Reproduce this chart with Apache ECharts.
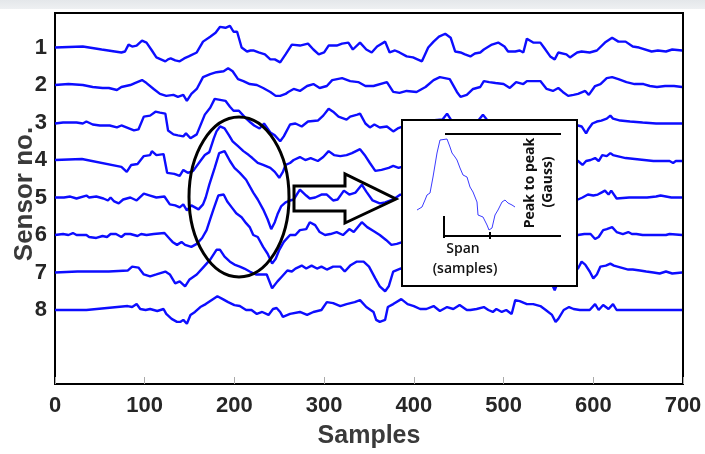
<!DOCTYPE html>
<html><head><meta charset="utf-8">
<script src="https://cdn.jsdelivr.net/npm/echarts@6/dist/echarts.min.js"></script>
<style>html,body{margin:0;padding:0;background:#fff}#c{width:705px;height:454px}</style>
</head><body><div id="c"></div>
<script>
// ---- data (sample, deviation from sensor baseline; up = positive) ----
const xTicks = [0,100,200,300,400,500,600,700];
const sensorLabels = ['1','2','3','4','5','6','7','8'];
const SENSOR_GAP = 38;

const sensor1 = [[0,0],[31,1],[52,-2],[74,-5],[78,-4],[82,3],[86,1],[91,2],[97,7],[102,5],[108,-3],[113,-10],[118,-12],[123,-14],[126,-12],[129,-11],[134,-13],[139,-14],[144,-11],[149,-9],[158,-5],[165,6],[173,11],[179,15],[184,21],[190,20],[195,22],[199,16],[203,16],[208,0],[214,-4],[218,-3],[221,-3],[227,-5],[234,-7],[240,-12],[245,-12],[251,-15],[257,-7],[264,3],[273,2],[282,4],[288,-2],[294,-7],[300,-5],[305,2],[314,2],[320,4],[327,5],[332,-2],[340,5],[347,-2],[353,-5],[359,1],[368,6],[373,-5],[379,-3],[384,-5],[392,-9],[399,-10],[409,-14],[416,0],[422,6],[428,11],[435,14],[441,10],[446,-4],[452,-5],[457,-7],[463,-9],[468,-6],[474,-5],[478,-2],[487,3],[494,5],[501,1],[505,-4],[513,-4],[518,-3],[522,-5],[526,9],[533,5],[541,5],[545,0],[552,-9],[557,-12],[561,-5],[570,-7],[574,-10],[582,-5],[587,-4],[596,-5],[604,-3],[613,5],[621,10],[628,6],[636,6],[644,1],[651,0],[665,-4],[672,-3],[681,-4],[688,-2],[699,-3]];
const sensor2 = [[0,0],[15,1],[31,0],[42,-2],[53,-3],[60,-3],[69,-5],[74,-2],[84,0],[89,2],[97,5],[102,2],[110,-4],[117,-9],[124,-11],[132,-10],[137,-12],[143,-10],[147,-16],[152,-9],[158,-4],[165,8],[173,11],[180,13],[188,14],[193,17],[198,14],[204,6],[210,4],[217,1],[225,0],[232,-3],[240,-7],[246,-11],[251,-11],[257,-9],[260,-7],[266,-4],[273,-6],[281,-1],[288,1],[295,-3],[303,-1],[309,5],[320,7],[329,4],[338,3],[346,-1],[355,-1],[370,3],[377,-7],[384,-8],[392,-6],[403,-7],[413,-2],[422,5],[429,8],[440,6],[448,-7],[452,-12],[459,-10],[466,-4],[474,-2],[478,4],[484,3],[491,2],[500,1],[507,-3],[514,3],[522,1],[526,4],[533,4],[541,4],[548,-4],[555,-6],[561,-3],[566,-7],[572,-11],[578,-10],[583,-9],[591,-6],[595,-10],[602,-1],[608,1],[615,7],[621,8],[628,6],[637,3],[646,1],[656,1],[663,-1],[671,-2],[680,-1],[690,-1],[699,-2]];
const sensor3 = [[0,-1],[9,0],[24,0],[31,-1],[35,1],[42,-2],[50,-3],[61,-3],[69,-5],[74,-3],[88,-8],[93,-7],[99,6],[106,7],[112,11],[117,10],[123,9],[126,-8],[132,-12],[137,-13],[143,-14],[146,-11],[151,-16],[158,-12],[167,8],[173,15],[178,24],[184,23],[190,22],[195,16],[199,12],[205,12],[212,5],[218,0],[222,-3],[228,-6],[233,-1],[240,-10],[245,-13],[251,-19],[255,-14],[262,-2],[268,-1],[275,-4],[282,1],[293,2],[299,7],[305,14],[310,11],[316,6],[325,3],[329,6],[337,8],[340,9],[346,-1],[351,-5],[356,-2],[362,-5],[370,-4],[377,-9],[382,-6],[388,-4],[395,-3],[420,2],[432,3],[437,9],[442,2],[470,0],[477,8],[483,1],[500,-2],[530,-4],[560,-1],[578,-1],[583,-3],[587,-4],[592,-11],[595,-6],[599,-1],[604,1],[609,2],[615,4],[619,7],[622,4],[630,2],[641,1],[655,0],[670,-1],[699,-1]];
const sensor4 = [[0,0],[30,1],[74,-7],[80,-12],[85,-5],[92,-4],[99,4],[106,5],[108,9],[113,5],[121,6],[125,-13],[133,-14],[139,-16],[143,-10],[148,-13],[154,-11],[162,-1],[167,5],[172,8],[177,22],[180,29],[184,34],[189,32],[194,25],[198,19],[204,14],[210,9],[216,5],[220,2],[226,-3],[232,-5],[240,-8],[245,-12],[250,-18],[254,-12],[257,-5],[262,-3],[266,0],[273,3],[279,0],[285,2],[293,-1],[299,3],[305,9],[311,5],[318,4],[325,5],[331,7],[340,11],[346,4],[351,-3],[357,-11],[364,-10],[372,-8],[377,-6],[383,-8],[390,-6],[395,-5],[430,0],[470,2],[520,-2],[560,1],[583,-1],[588,-5],[592,-1],[597,0],[602,2],[606,-1],[610,5],[615,4],[619,7],[622,5],[636,2],[667,-1],[685,-1],[689,-3],[692,-1],[699,-1]];
const sensor5 = [[0,0],[10,0],[17,1],[24,-1],[35,2],[38,0],[46,1],[54,-1],[59,-3],[62,0],[66,-4],[71,-6],[76,-2],[84,0],[91,-3],[99,4],[106,2],[113,0],[122,1],[128,-7],[134,-8],[139,-10],[143,-7],[147,-13],[152,-8],[160,-12],[165,-7],[168,0],[172,13],[178,30],[183,45],[189,47],[195,37],[200,30],[206,25],[213,18],[221,5],[226,-2],[232,-12],[237,-22],[241,-32],[245,-25],[248,-17],[252,-9],[257,-5],[262,-3],[266,-2],[273,8],[280,2],[284,-1],[290,0],[297,3],[303,3],[310,-3],[315,-2],[322,7],[328,3],[335,5],[342,13],[347,6],[354,-3],[362,-6],[368,-5],[377,-2],[385,3],[392,1],[420,2],[460,-1],[500,2],[540,0],[575,1],[583,-2],[588,0],[594,3],[600,2],[605,3],[609,5],[613,7],[617,3],[620,7],[626,-1],[640,0],[660,0],[670,1],[675,2],[687,0],[699,0]];
const sensor6 = [[0,0],[9,1],[15,0],[20,2],[24,0],[35,0],[38,-2],[46,-3],[53,-1],[58,-2],[62,1],[68,1],[74,-2],[78,1],[84,1],[92,-1],[96,1],[102,0],[110,1],[122,2],[128,-4],[131,-7],[136,-10],[141,-7],[145,-10],[152,-12],[158,-9],[164,-3],[169,5],[173,16],[177,27],[182,40],[188,41],[192,34],[197,28],[202,22],[208,18],[213,12],[217,8],[221,0],[226,-2],[232,-12],[237,-19],[242,-29],[246,-24],[250,-15],[255,-7],[262,0],[268,0],[273,5],[280,6],[284,13],[290,10],[295,3],[301,0],[307,1],[314,3],[321,0],[328,6],[333,3],[342,13],[348,8],[355,4],[362,0],[369,-5],[375,-10],[381,-9],[388,-7],[420,-3],[470,2],[520,-1],[560,1],[583,0],[590,1],[597,1],[602,-4],[606,-2],[611,5],[615,6],[621,8],[626,3],[633,1],[639,3],[643,1],[648,1],[655,0],[675,0],[677,2],[681,0],[685,1],[699,0]];
const sensor7 = [[0,0],[25,1],[60,1],[81,2],[86,6],[93,5],[99,-2],[106,-4],[113,-2],[123,1],[128,-2],[134,-11],[139,-9],[145,-14],[150,-7],[158,-2],[165,5],[173,13],[180,23],[184,23],[189,16],[195,11],[200,8],[206,6],[211,4],[217,1],[224,-2],[232,-2],[236,-2],[242,-16],[248,-9],[253,-4],[259,2],[264,1],[268,4],[275,7],[280,4],[286,7],[292,4],[297,6],[303,3],[310,6],[318,6],[323,1],[329,7],[336,11],[344,11],[350,6],[357,-6],[362,-14],[368,-19],[372,-14],[377,1],[385,4],[400,2],[450,0],[500,3],[540,-2],[552,-8],[557,-18],[562,-6],[575,0],[583,4],[587,11],[591,8],[596,1],[600,-6],[604,-2],[608,6],[614,7],[619,9],[623,7],[627,6],[635,4],[639,3],[644,3],[652,2],[659,1],[667,0],[674,-1],[681,1],[688,-1],[699,0]];
const sensor8 = [[0,0],[35,0],[81,4],[86,3],[91,6],[95,1],[101,0],[106,1],[114,-1],[121,1],[124,-4],[130,-9],[136,-12],[140,-12],[143,-10],[147,-14],[151,-5],[156,-2],[162,3],[168,6],[176,11],[181,14],[187,11],[193,8],[200,5],[206,4],[213,0],[219,0],[225,-4],[231,-2],[238,-5],[243,1],[247,2],[251,-2],[254,-7],[262,-4],[273,-2],[281,-5],[288,-2],[297,0],[303,8],[310,7],[318,4],[325,6],[334,8],[340,10],[347,3],[355,-2],[358,-10],[362,-12],[368,-10],[371,3],[377,6],[386,11],[393,6],[400,4],[407,1],[414,1],[422,4],[429,-1],[437,3],[444,1],[451,5],[459,0],[463,0],[470,1],[478,3],[483,0],[488,-2],[492,1],[498,-2],[503,0],[509,-4],[513,10],[518,9],[526,6],[533,6],[541,4],[547,0],[554,-5],[558,-12],[561,-9],[567,0],[573,3],[578,1],[585,0],[596,0],[602,6],[606,0],[611,5],[617,1],[622,6],[626,0],[699,0]];
const sensors = [sensor1,sensor2,sensor3,sensor4,sensor5,sensor6,sensor7,sensor8];

// inset: single pulse (inset samples, inset field)
const insetPulse = [[15,76],[20,79],[23,86],[25,91],[28,93],[31,109],[35,133],[38,146],[45,147],[48,139],[50,133],[53,129],[55,126],[58,118],[61,111],[65,109],[68,99],[71,94],[75,84],[76,71],[81,69],[85,61],[87,56],[90,58],[93,71],[96,76],[100,84],[103,86],[106,83],[110,81],[113,79]];
const insetPeakLevel = 152, insetBaseLevel = 50, insetSpanStart = 42, insetSpanEnd = 88, insetLineEnd = 159, insetTickTop = 70;

const chart = echarts.init(document.getElementById('c'), null, {renderer:'canvas'});
const FONT = "'Liberation Sans', Arial, sans-serif";
const series = sensors.map((d,i)=>({
  type:'line', xAxisIndex:0, yAxisIndex:0, showSymbol:false, silent:true, z:2,
  lineStyle:{color:'#0d0dff', width:2.4},
  data: d.map(p=>[p[0], (i+1)*SENSOR_GAP - p[1]])
}));
const mlStyle = {color:'#000', width:2, type:'solid'};
series.push({
  type:'line', xAxisIndex:1, yAxisIndex:1, showSymbol:false, silent:true, z:60,
  lineStyle:{color:'#3b3bff', width:1}, data: insetPulse,
  markLine:{silent:true, z:65, symbol:'none', label:{show:false}, lineStyle:mlStyle, animation:false,
    emphasis:{disabled:true},
    data:[
      [{coord:[insetSpanStart+1, insetPeakLevel]},{coord:[insetLineEnd, insetPeakLevel]}],
      [{coord:[insetSpanStart, insetBaseLevel]},{coord:[insetLineEnd, insetBaseLevel]}],
      [{coord:[insetSpanStart, insetTickTop]},{coord:[insetSpanStart, insetBaseLevel-2]}],
      [{coord:[insetSpanEnd, insetBaseLevel+4]},{coord:[insetSpanEnd, insetBaseLevel-3]}]
    ]}
});

chart.setOption({
  animation:false,
  backgroundColor:'#fff',
  grid:[
    {left:55, right:22, top:13, bottom:65, show:true, borderColor:'#000', borderWidth:2, backgroundColor:'transparent'},
    {left:402, top:120, width:175, height:166, show:false}
  ],
  xAxis:[
    {type:'value', gridIndex:0, min:0, max:700, interval:100,
     axisLine:{show:false}, splitLine:{show:false},
     axisTick:{show:true, inside:true, length:7, lineStyle:{color:'#aaa', width:1}},
     axisLabel:{fontFamily:FONT, fontWeight:'bold', fontSize:22, color:'#262626', margin:11},
     name:'Samples', nameLocation:'middle', nameGap:40,
     nameTextStyle:{fontFamily:FONT, fontWeight:'bold', fontSize:25, color:'#3a3a3a'}},
    {type:'value', gridIndex:1, min:0, max:175, show:false}
  ],
  yAxis:[
    {type:'value', gridIndex:0, inverse:true, min:3, max:379,
     axisLine:{show:false}, splitLine:{show:false}, axisTick:{show:false},
     axisLabel:{customValues: sensorLabels.map((s,i)=>(i+1)*SENSOR_GAP),
       formatter:v=>sensorLabels[Math.round(v/SENSOR_GAP)-1]||'',
       fontFamily:FONT, fontWeight:'bold', fontSize:22, color:'#262626', margin:8}},
    {type:'value', gridIndex:1, min:0, max:166, show:false}
  ],
  series: series,
  graphic:[
    {type:'rect', shape:{x:0,y:0,width:705,height:9}, z:1,
     style:{fill:new echarts.graphic.LinearGradient(0,0,0,1,[{offset:0,color:'#e4e7ea'},{offset:1,color:'#eef0f2'}])}},
    {type:'text', x:25, y:194, rotation:Math.PI/2, z:5,
     style:{text:'Sensor no.', fontFamily:FONT, fontWeight:'bold', fontSize:26, fill:'#3a3a3a', align:'center', verticalAlign:'middle'}},
    {type:'rect', shape:{x:402,y:120,width:175,height:166}, z:50,
     style:{fill:'#fff', stroke:'#000', lineWidth:2}},
    {type:'ellipse', shape:{cx:239, cy:197, rx:50, ry:80}, z:70,
     style:{fill:null, stroke:'#000', lineWidth:3}},
    {type:'polygon', shape:{points:[[294,186],[345,186],[345,174],[396,199],[345,223],[345,211],[294,211]]}, z:70,
     style:{fill:null, stroke:'#000', lineWidth:3}},
    {type:'text', x:530, y:183, rotation:Math.PI/2, z:70,
     style:{text:'Peak to peak', fontFamily:'Open Sans', fontWeight:'bold', fontSize:14, fill:'#111', align:'center', verticalAlign:'middle'}},
    {type:'text', x:548, y:182, rotation:Math.PI/2, z:70,
     style:{text:'(Gauss)', fontFamily:'Open Sans', fontWeight:'bold', fontSize:14, fill:'#111', align:'center', verticalAlign:'middle'}},
    {type:'text', x:463, y:249, z:70,
     style:{text:'Span', fontFamily:'Open Sans', fontWeight:600, fontSize:14, fill:'#111', align:'center', verticalAlign:'middle'}},
    {type:'text', x:465, y:269, z:70,
     style:{text:'(samples)', fontFamily:'Open Sans', fontWeight:600, fontSize:14, fill:'#111', align:'center', verticalAlign:'middle'}}
  ]
});
</script></body></html>
